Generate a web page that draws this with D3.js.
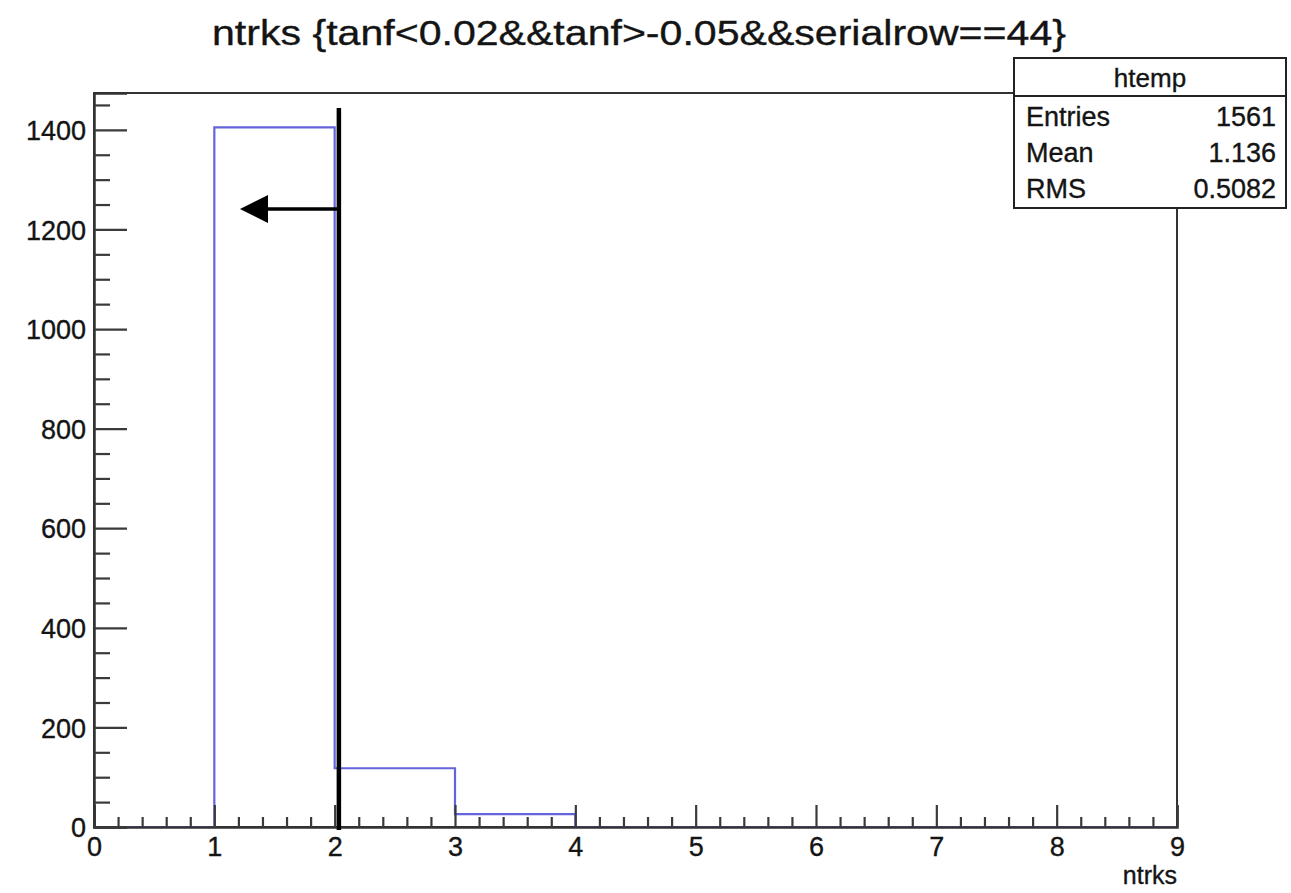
<!DOCTYPE html>
<html>
<head>
<meta charset="utf-8">
<script src="https://cdn.jsdelivr.net/npm/d3@7"></script>
<style>
  body { margin: 0; background: #fff; }
  svg { display: block; font-family: "Liberation Sans", Arial, sans-serif; }
  text { fill: #141414; stroke: #141414; stroke-width: 0.35px; }
</style>
</head>
<body>
<div id="chart"></div>
<script>
// histogram bins (low edge, high edge, count)
const binLow = [0, 1, 2, 3, 4, 5, 6, 7, 8];
const binHigh = [1, 2, 3, 4, 5, 6, 7, 8, 9];
const counts = [0, 1405, 118, 26, 0, 0, 0, 0, 0];

// axis ticks
const xMajor = [0, 1, 2, 3, 4, 5, 6, 7, 8, 9];
const yMajor = [0, 200, 400, 600, 800, 1000, 1200, 1400];

// stats box
const statNames = ["Entries", "Mean", "RMS"];
const statValues = ["1561", "1.136", "0.5082"];

// hand-drawn annotation (in data units)
const cutX = [2.035];
const cutY = [-6, 1444];
const arrowX = [2.035, 1.24];
const arrowY = [1241];

const W = 1291, H = 893;
const margin = { top: 93, right: 114, bottom: 66, left: 94 };
const width = W - margin.left - margin.right;
const height = H - margin.top - margin.bottom;

const svg = d3.select("#chart")
    .append("svg")
    .attr("width", W)
    .attr("height", H);

const g = svg.append("g")
    .attr("transform", `translate(${margin.left},${margin.top})`);

const x = d3.scaleLinear().domain([0, 9]).range([0, width]);
const y = d3.scaleLinear().domain([0, 1474]).range([height, 0]);

// minor tick values
const xMinor = d3.range(0, 9.0001, 0.2).filter(v => Math.abs(v - Math.round(v)) > 1e-6);
const yMinor = d3.range(0, 1474, 50).filter(v => v % 200 !== 0);

// frame
g.append("rect")
    .attr("width", width)
    .attr("height", height)
    .attr("fill", "none")
    .attr("stroke", "#333")
    .attr("stroke-width", 2);

// histogram outline
const pts = [[x(0), y(0)]];
binLow.forEach((lo, i) => {
    pts.push([x(lo), y(counts[i])]);
    pts.push([x(binHigh[i]), y(counts[i])]);
});
pts.push([x(9), y(0)]);
g.append("path")
    .attr("d", d3.line()(pts))
    .attr("fill", "none")
    .attr("stroke", "#6464dc")
    .attr("stroke-width", 2.2);

// x axis
const xAxis = g.append("g")
    .attr("transform", `translate(0,${height})`)
    .call(d3.axisBottom(x).tickValues(xMajor).tickSize(-22).tickPadding(10).tickFormat(d3.format("d")));
g.append("g")
    .attr("transform", `translate(0,${height})`)
    .call(d3.axisBottom(x).tickValues(xMinor).tickSize(-10).tickFormat(""))
    .call(a => a.select(".domain").remove());

// y axis
const yAxis = g.append("g")
    .call(d3.axisLeft(y).tickValues(yMajor).tickSize(-33).tickPadding(8).tickFormat(d3.format("d")));
g.append("g")
    .call(d3.axisLeft(y).tickValues(yMinor).tickSize(-16).tickFormat(""))
    .call(a => a.select(".domain").remove());

g.selectAll(".tick line").attr("stroke", "#3a3a3a").attr("stroke-width", 2.2);
g.selectAll(".domain").attr("stroke", "#333").attr("stroke-width", 2.5);
g.selectAll(".tick text")
    .attr("fill", null)
    .style("font-size", "27px");
yAxis.selectAll(".tick text").attr("dy", "0.36em");

// axis title
g.append("text")
    .attr("x", width)
    .attr("y", height + 57)
    .attr("text-anchor", "end")
    .style("font-size", "25px")
    .text("ntrks");

// title
svg.append("text")
    .attr("x", 639)
    .attr("y", 45)
    .attr("text-anchor", "middle")
    .attr("textLength", 854)
    .attr("lengthAdjust", "spacingAndGlyphs")
    .style("font-size", "35px")
    .text("ntrks {tanf<0.02&&tanf>-0.05&&serialrow==44}");

// stats box
const box = svg.append("g").attr("transform", "translate(1014,58)");
box.append("rect")
    .attr("width", 272)
    .attr("height", 150)
    .attr("fill", "#fff")
    .attr("stroke", "#222")
    .attr("stroke-width", 2);
box.append("line")
    .attr("x1", 0).attr("x2", 272)
    .attr("y1", 38).attr("y2", 38)
    .attr("stroke", "#222")
    .attr("stroke-width", 2);
box.append("text")
    .attr("x", 136)
    .attr("y", 29)
    .attr("text-anchor", "middle")
    .style("font-size", "26px")
    .text("htemp");
statNames.forEach((name, i) => {
    box.append("text")
        .attr("x", 12)
        .attr("y", 68 + i * 36)
        .style("font-size", "27px")
        .text(name);
    box.append("text")
        .attr("x", 262)
        .attr("y", 68 + i * 36)
        .attr("text-anchor", "end")
        .style("font-size", "27px")
        .text(statValues[i]);
});

// annotation: cut line and arrow
g.append("line")
    .attr("x1", x(cutX[0])).attr("x2", x(cutX[0]))
    .attr("y1", y(cutY[0])).attr("y2", y(cutY[1]))
    .attr("stroke", "#000")
    .attr("stroke-width", 4.5);

svg.append("defs").append("marker")
    .attr("id", "head")
    .attr("viewBox", "0 0 10 10")
    .attr("refX", 1)
    .attr("refY", 5)
    .attr("markerWidth", 8)
    .attr("markerHeight", 8)
    .attr("markerUnits", "strokeWidth")
    .attr("orient", "auto")
    .append("path")
    .attr("d", "M0,0 L10,5 L0,10 Z")
    .attr("fill", "#000");

g.append("line")
    .attr("x1", x(arrowX[0])).attr("x2", x(arrowX[1]) + 22)
    .attr("y1", y(arrowY[0])).attr("y2", y(arrowY[0]))
    .attr("stroke", "#000")
    .attr("stroke-width", 3.5)
    .attr("marker-end", "url(#head)");
</script>
</body>
</html>
